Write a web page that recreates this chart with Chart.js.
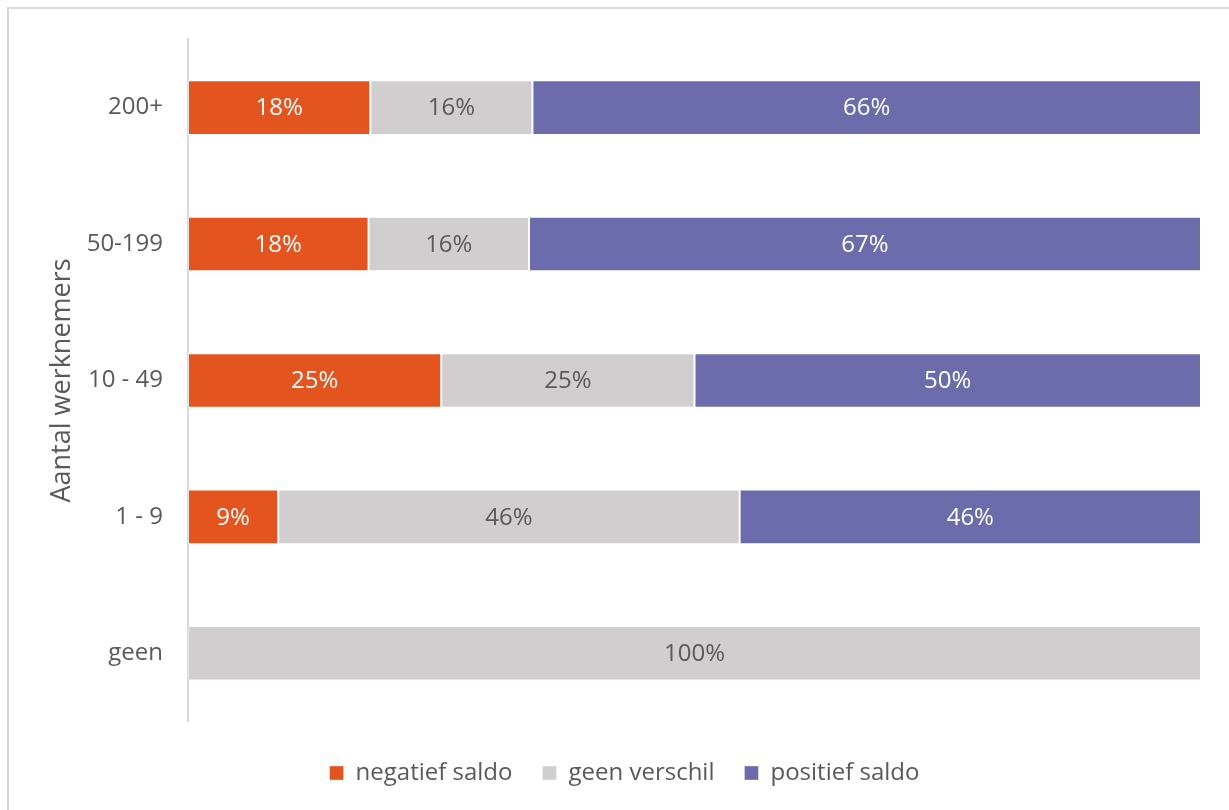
<!DOCTYPE html>
<html lang="nl">
<head>
<meta charset="utf-8">
<title>Saldo naar aantal werknemers</title>
<script src="https://cdn.jsdelivr.net/npm/chart.js@4"></script>
<style>
  html, body { margin: 0; padding: 0; background: #ffffff; }
  #frame {
    position: absolute; left: 7px; top: 7px; width: 1300px; height: 900px;
    border-left: 2px solid #d9d9d9; border-top: 2px solid #d9d9d9;
  }
  #chart { position: absolute; left: 0; top: 0; }
</style>
</head>
<body>
<div id="frame"></div>
<canvas id="chart" width="1229" height="810"></canvas>
<script>
'use strict';

// categories and the rounded percentages per series
let categories = ['200+', '50-199', '10 - 49', '1 - 9', 'geen'];
let negatiefSaldo = [18, 18, 25, 9, 0];
let geenVerschil = [16, 16, 25, 46, 100];
let positiefSaldo = [66, 67, 50, 46, 0];

let seriesNames = ['negatief saldo', 'geen verschil', 'positief saldo'];
let seriesColors = ['#e3541e', '#d0cece', '#6c6bab'];
let labelColors = ['#ffffff', '#595959', '#ffffff'];

let textColor = '#595959';
let fontFamily = '"Open Sans", "Noto Sans", sans-serif';

// 100% stacked: each row is scaled to its own total
function shareOf(values, i){
  let total = negatiefSaldo[i] + geenVerschil[i] + positiefSaldo[i];
  return values[i] / total * 100;
}

let rawSeries = [negatiefSaldo, geenVerschil, positiefSaldo];
let datasets = [];
for(let s = 0; s < rawSeries.length; s++){
  let shares = [];
  for(let i = 0; i < categories.length; i++){
    shares.push(shareOf(rawSeries[s], i));
  }
  datasets.push({
    label: seriesNames[s],
    data: shares,
    rawValues: rawSeries[s],
    backgroundColor: seriesColors[s],
    borderColor: 'rgba(255,255,255,0.35)',
    borderWidth: 1,
    borderSkipped: false,
    categoryPercentage: 1,
    barPercentage: 0.4
  });
}

// value labels in the middle of each segment
const segmentLabels = {
  id: 'segmentLabels',
  afterDatasetsDraw(chart){
    const ctx = chart.ctx;
    ctx.save();
    ctx.font = '24px ' + fontFamily;
    ctx.textAlign = 'center';
    ctx.textBaseline = 'middle';
    chart.data.datasets.forEach((ds, s) => {
      const meta = chart.getDatasetMeta(s);
      meta.data.forEach((bar, i) => {
        const value = ds.rawValues[i];
        if(!value){
          return;
        }
        const {x, y, base} = bar.getProps(['x', 'y', 'base'], true);
        ctx.fillStyle = labelColors[s];
        ctx.fillText(value + '%', (x + base) / 2, y + 1);
      });
    });
    ctx.restore();
  }
};

const ctx = document.getElementById('chart');
new Chart(ctx, {
  type: 'bar',
  data: {
    labels: categories,
    datasets: datasets
  },
  plugins: [segmentLabels],
  options: {
    indexAxis: 'y',
    responsive: false,
    animation: false,
    layout: {
      padding: { top: 33, left: 48, right: 28, bottom: 15 }
    },
    scales: {
      x: {
        display: false,
        stacked: true,
        min: 0,
        max: 100
      },
      y: {
        stacked: true,
        grid: { display: false, drawTicks: false },
        border: { display: true, color: '#d9d9d9', width: 2 },
        ticks: {
          color: textColor,
          padding: 25,
          font: { family: fontFamily, size: 24 }
        },
        title: {
          display: true,
          text: 'Aantal werknemers',
          color: textColor,
          padding: { top: 0.5, bottom: 0 },
          font: { family: fontFamily, size: 27, lineHeight: 1 }
        },
        afterFit(scale){
          scale.width = 140;
        }
      }
    },
    plugins: {
      tooltip: { enabled: false },
      legend: {
        position: 'bottom',
        // empty title only adds a little room above the legend row
        title: {
          display: true,
          text: '',
          padding: { top: 4, bottom: 4.3 },
          font: { size: 1 }
        },
        labels: {
          color: textColor,
          boxWidth: 14,
          boxHeight: 14,
          padding: 30,
          font: { family: fontFamily, size: 24 }
        }
      }
    }
  }
});
</script>
</body>
</html>
